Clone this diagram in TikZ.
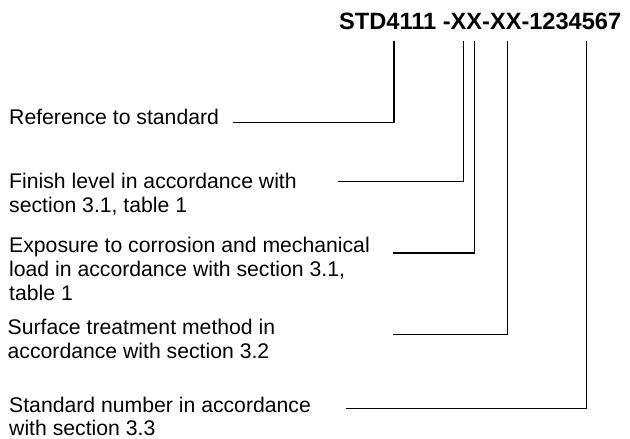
\documentclass[tikz,border=0pt]{standalone}
\usepackage{fontspec}
\setmainfont{Liberation Sans}
\newcommand\lbltab[1]{\begin{tabular}[t]{@{}l@{}}#1\end{tabular}}
\begin{document}
\begin{tikzpicture}[x=1pt,y=-1pt,
  lbl/.style={anchor=base west,inner sep=0pt,font=\fontsize{21.2}{24}\selectfont},
  codestyle/.style={anchor=base west,inner sep=0pt,font=\fontsize{23.6}{26}\selectfont\bfseries},
  leader/.style={draw=black,line width=1.3pt}]
\useasboundingbox (0,0) rectangle (630,439);
\node[codestyle] (code) at (339,30) {STD4111 -XX-XX-1234567};
% tops of leaders
\coordinate (t1) at (394,40.7);
\coordinate (t2) at (463.5,40.7);
\coordinate (t3) at (474.3,40.7);
\coordinate (t4) at (507.7,40.7);
\coordinate (t5) at (586.7,40.7);
% labels
\node[lbl] (l1) at (9,124) {\lbltab{Reference to standard}};
\node[lbl] (l2) at (9,188) {\lbltab{Finish level in accordance with\\section 3.1, table 1}};
\node[lbl] (l3) at (9,252) {\lbltab{Exposure to corrosion and mechanical\\load in accordance with section 3.1,\\table 1}};
\node[lbl] (l4) at (7.5,334) {\lbltab{Surface treatment method in\\accordance with section 3.2}};
\node[lbl,font=\fontsize{21.2}{23.5}\selectfont] (l5) at (9,412) {\lbltab{Standard number in accordance\\with section 3.3}};
% free ends of leaders
\coordinate (e1) at (233,122.3);
\coordinate (e2) at (338,181.3);
\coordinate (e3) at (393.3,253);
\coordinate (e4) at (393.3,334.7);
\coordinate (e5) at (346,408.7);
\draw[leader] (t1) |- (e1);
\draw[leader] (t2) |- (e2);
\draw[leader] (t3) |- (e3);
\draw[leader] (t4) |- (e4);
\draw[leader] (t5) |- (e5);
\end{tikzpicture}
\end{document}
